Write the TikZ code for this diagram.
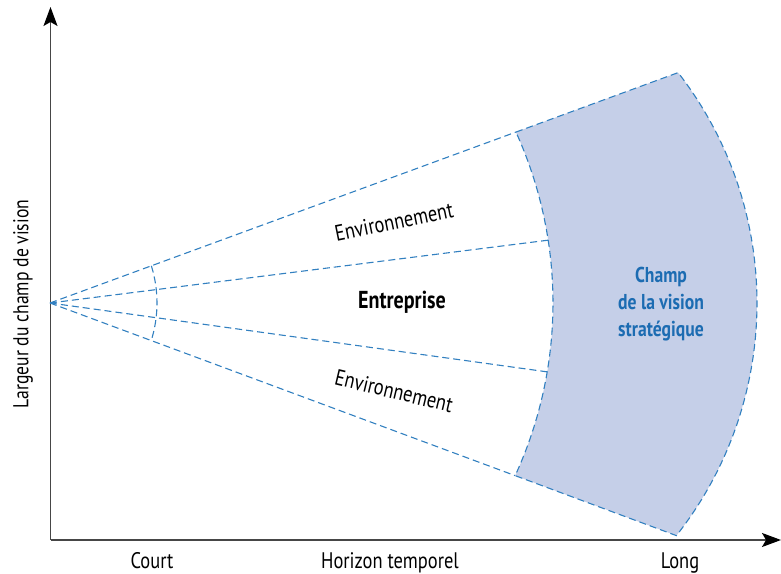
\documentclass[tikz,border=0pt]{standalone}
\usepackage{fontspec}
\setmainfont{PT Sans}[FakeStretch=0.82]
\usetikzlibrary{arrows.meta}
\usetikzlibrary{calc}
\definecolor{raycol}{RGB}{50,128,192}
\definecolor{zonecol}{RGB}{197,207,232}
\definecolor{champcol}{RGB}{28,108,178}
\definecolor{axiscol}{RGB}{70,70,70}
\tikzset{
  ray/.style={raycol, line width=1.1pt, dash pattern=on 7pt off 4pt},
  zone/.style={ray, fill=zonecol},
  axis/.style={axiscol, line width=1.3pt, -{Stealth[length=19pt,width=14pt,inset=4pt,black]}},
  lbl/.style={font=\fontsize{22.5}{27}\selectfont, inner sep=0pt},
}

\begin{document}
\begin{tikzpicture}[x=1pt,y=1pt]
       \useasboundingbox (0,0) rectangle (781,573);

       % centres of the arcs and apex
       \coordinate (A) at (50,270);
       \coordinate (ci) at (140,270);
       \coordinate (co) at (381,270);
       \coordinate (cs) at (32,270);

       % corners of the strategic zone
       \coordinate (it) at ($(ci)+(24.45:413)$);
       \coordinate (ib) at ($(ci)+(-24.71:413)$);
       \coordinate (ot) at ($(co)+(37.79:376)$);
       \coordinate (ob) at ($(co)+(-38.22:376)$);
       \coordinate (et) at ($(ci)+(8.75:413)$);
       \coordinate (eb) at ($(ci)+(-9.6:413)$);
       \coordinate (st) at ($(cs)+(17.3:125)$);

       % axes
       \coordinate (O) at (50.5,33);
       \coordinate (ytip) at (50.5,566);
       \coordinate (xtip) at (781,33);
       \draw[axis] (O) -- (ytip);
       \draw[axis] (O) -- (xtip);

       % strategic zone
       \filldraw[zone] (it) -- (ot) arc[start angle=37.79, end angle=-38.22, radius=376]
              -- (ib) arc[start angle=-24.71, end angle=24.45, radius=413] -- cycle;

       % rays from the apex
       \draw[ray] (A) -- (it);
       \draw[ray] (A) -- (ib);
       \draw[ray] (A) -- (et);
       \draw[ray] (A) -- (eb);
       \draw[ray] (st) arc[start angle=17.3, end angle=-17.5, radius=125];

       % labels
       \node[lbl, rotate=11.5] (envhaut) at (394,351) {Environnement};
       \node[lbl, font=\fontsize{24.5}{27}\selectfont\bfseries] (entreprise) at (402,271) {Entreprise};
       \node[lbl, rotate=-13.5] (envbas) at (394,182) {Environnement};
       \node[lbl, font=\fontsize{21.5}{27}\selectfont\bfseries, text=champcol, align=center] (champ) at (661,269) {Champ\\de la vision\\stratégique};

       \node[lbl, anchor=base] (court) at (152,5) {Court};
       \node[lbl, anchor=base] (horizon) at (390,5) {Horizon temporel};
       \node[lbl, anchor=base] (long) at (680,5) {Long};
       \node[lbl, rotate=90, font=\fontsize{21.5}{27}\selectfont] (largeur) at (23,269) {Largeur du champ de vision};
\end{tikzpicture}
\end{document}
